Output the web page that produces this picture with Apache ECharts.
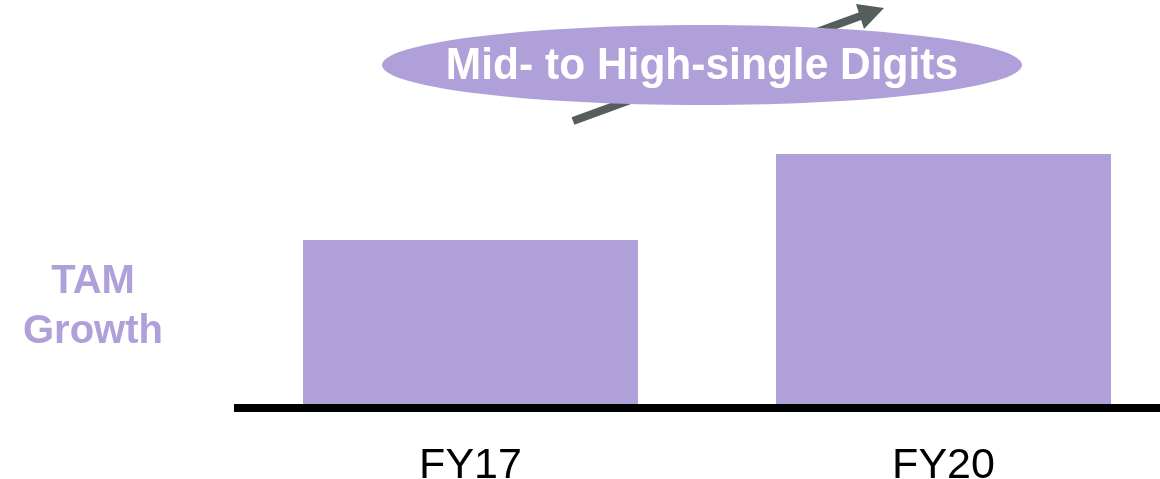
<!DOCTYPE html>
<html lang="en">
<head>
  <meta charset="UTF-8">
  <title>TAM Growth</title>
  <script src="https://cdn.jsdelivr.net/npm/echarts@6/dist/echarts.min.js"></script>
  <style>
    html, body { margin: 0; padding: 0; background: #fff; }
    #chart { width: 1160px; height: 479px; }
  </style>
</head>
<body>
  <div id="chart"></div>
  <script>
    // chart data (relative bar heights)
    const categories = ['FY17', 'FY20'];
    const tamValues = [168, 254];
    const sideLabel = 'TAM\nGrowth';
    const calloutText = 'Mid- to High-single Digits';

    const purple = '#b0a0d9';
    const arrowGrey = '#555d5d';
    const font = '"Liberation Sans", Arial, sans-serif';

    const chart = echarts.init(document.getElementById('chart'));

    const option = {
      backgroundColor: '#fff',
      animation: false,
      // grid runs past the right edge of the canvas, like the original slide
      grid: {
        left: 234, top: 8, width: 946, height: 400,
        containLabel: false,
        outerBoundsMode: 'none'
      },
      xAxis: {
        type: 'category',
        data: categories,
        z: 5, // base line sits on top of the bars
        axisLine: { show: true, lineStyle: { color: '#000', width: 8, cap: 'butt' } },
        axisTick: { show: false },
        axisLabel: { color: '#000', fontSize: 43, fontFamily: font, margin: 37 }
      },
      yAxis: {
        type: 'value',
        min: 0,
        max: 400,
        show: false
      },
      series: [{
        type: 'bar',
        data: tamValues,
        barWidth: 335,
        itemStyle: { color: purple }
      }],
      graphic: [
        // arrow behind the callout
        {
          type: 'line',
          z: 10,
          shape: { x1: 573, y1: 121, x2: 866, y2: 14 },
          style: { stroke: arrowGrey, lineWidth: 8 }
        },
        {
          type: 'polygon',
          z: 10,
          shape: { points: [[884, 8], [856, 4], [864, 29]] },
          style: { fill: arrowGrey }
        },
        {
          type: 'ellipse',
          z: 20,
          shape: { cx: 702, cy: 65, rx: 320, ry: 40 },
          style: { fill: purple }
        },
        {
          type: 'text',
          z: 30,
          x: 702,
          y: 67,
          scaleY: 1.06,
          style: {
            text: calloutText,
            fill: '#fff',
            font: 'bold 42.5px ' + font,
            align: 'center',
            verticalAlign: 'middle'
          }
        },
        {
          type: 'text',
          z: 30,
          x: 93,
          y: 307,
          style: {
            text: sideLabel,
            fill: purple,
            font: 'bold 40px ' + font,
            lineHeight: 50,
            align: 'center',
            verticalAlign: 'middle'
          }
        }
      ]
    };

    chart.setOption(option);
  </script>
</body>
</html>
